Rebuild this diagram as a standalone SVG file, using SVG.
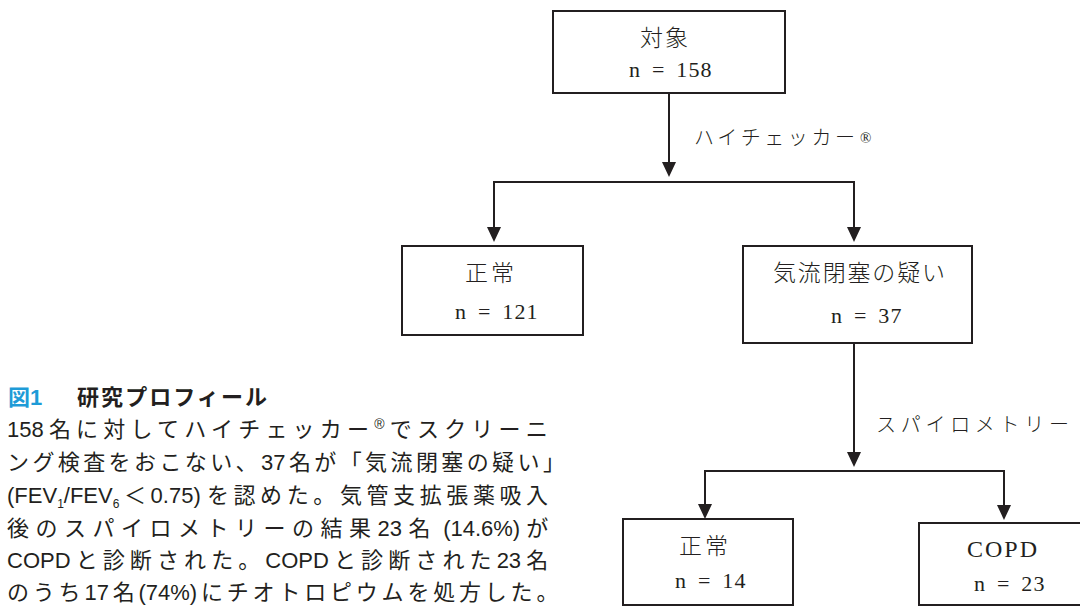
<svg xmlns="http://www.w3.org/2000/svg" width="1080" height="606" viewBox="0 0 1080 606">
<style>
.bg{fill:#ffffff}
.box{fill:#ffffff;stroke:#231f20;stroke-width:2}
.ln{fill:none;stroke:#231f20;stroke-width:2}
.jp{font-family:"Noto Sans CJK JP","Liberation Serif",serif;font-weight:300;fill:#231f20}
.num{font-family:"Liberation Serif","Noto Sans CJK JP",serif;font-size:22px;letter-spacing:1.2px;word-spacing:4px;fill:#231f20}
.cap{font-family:"Liberation Sans","Noto Sans CJK JP",sans-serif;font-size:22px;fill:#231f20}
.lat{letter-spacing:0}
.ttl{font-family:"Liberation Sans","Noto Sans CJK JP",sans-serif;font-size:22px;font-weight:bold;fill:#231f20}
.blue{fill:#1e9bd7}
</style>
<defs>
<marker id="ah" viewBox="0 0 15 14" markerWidth="15" markerHeight="14" refX="11" refY="7" orient="auto" markerUnits="userSpaceOnUse">
<path d="M0,0 L15,7 L0,14 Z" fill="#231f20"/>
</marker>
</defs>
<rect class="bg" x="0" y="0" width="1080" height="606"/>

<g id="connectors">
<path class="ln" d="M669,93 V173" marker-end="url(#ah)"/>
<path class="ln" d="M494,182 H854"/>
<path class="ln" d="M494,181 V238" marker-end="url(#ah)"/>
<path class="ln" d="M854,181 V238" marker-end="url(#ah)"/>
<path class="ln" d="M854,343 V463" marker-end="url(#ah)"/>
<path class="ln" d="M705,471 H1004"/>
<path class="ln" d="M705,470 V515" marker-end="url(#ah)"/>
<path class="ln" d="M1004,470 V516" marker-end="url(#ah)"/>
<text class="jp" x="694" y="145" font-size="20" textLength="161" lengthAdjust="spacing">ハイチェッカー</text>
<text class="jp" x="860" y="143" font-size="15" style="font-family:'Liberation Serif',serif">®</text>
<text class="jp" x="876" y="432" font-size="20" textLength="193" lengthAdjust="spacing">スパイロメトリー</text>
</g>

<g id="node-target">
<rect class="box" x="553" y="11" width="232" height="82"/>
<text class="jp" x="640" y="46" font-size="23" textLength="48" lengthAdjust="spacing">対象</text>
<text class="num" x="629" y="77">n = 158</text>
</g>

<g id="node-normal1">
<rect class="box" x="402" y="246" width="181" height="89"/>
<text class="jp" x="465" y="281" font-size="23" textLength="49" lengthAdjust="spacing">正常</text>
<text class="num" x="455" y="319">n = 121</text>
</g>

<g id="node-suspect">
<rect class="box" x="743" y="246" width="229" height="97"/>
<text class="jp" x="773" y="281" font-size="23" textLength="172" lengthAdjust="spacing">気流閉塞の疑い</text>
<text class="num" x="831" y="323">n = 37</text>
</g>

<g id="node-normal2">
<rect class="box" x="623" y="519" width="170" height="86"/>
<text class="jp" x="679" y="554" font-size="23" textLength="49" lengthAdjust="spacing">正常</text>
<text class="num" x="675" y="588">n = 14</text>
</g>

<g id="node-copd">
<rect class="box" x="919" y="523" width="175" height="82"/>
<text class="num" x="967" y="557" style="font-size:24px;letter-spacing:2px">COPD</text>
<text class="num" x="974" y="591">n = 23</text>
</g>

<g id="caption">
<text class="ttl blue" x="8" y="405">図1</text>
<text class="ttl" x="77" y="405" textLength="190" lengthAdjust="spacing">研究プロフィール</text>
<text class="cap" x="7" y="437" letter-spacing="5.2"><tspan class="lat">158</tspan><tspan dx="5.2">名に対してハイチェッカー</tspan><tspan class="lat" font-size="14" dy="-8">®</tspan><tspan dy="8" dx="5.2">でスクリーニ</tspan></text>
<text class="cap" x="7" y="470" letter-spacing="3.4"><tspan>ング検査をおこない、</tspan><tspan class="lat">37</tspan><tspan dx="3.4">名が「気流閉塞の疑い」</tspan></text>
<text class="cap" x="7" y="503" letter-spacing="4.6"><tspan class="lat">(FEV</tspan><tspan class="lat" font-size="12" dy="5">1</tspan><tspan class="lat" dy="-5">/FEV</tspan><tspan class="lat" font-size="12" dy="5">6</tspan><tspan dy="-5" dx="4.6">＜</tspan><tspan class="lat">0.75) </tspan><tspan>を認めた。気管支拡張薬吸入</tspan></text>
<text class="cap" x="7" y="536" letter-spacing="6.5"><tspan>後のスパイロメトリーの結果</tspan><tspan class="lat">23</tspan><tspan dx="6.5">名</tspan><tspan class="lat"> (14.6%) </tspan><tspan>が</tspan></text>
<text class="cap" x="7" y="568" letter-spacing="5.1"><tspan class="lat">COPD</tspan><tspan dx="5.1">と診断された。</tspan><tspan class="lat">COPD</tspan><tspan dx="5.1">と診断された</tspan><tspan class="lat">23</tspan><tspan dx="5.1">名</tspan></text>
<text class="cap" x="7" y="600" letter-spacing="3.8"><tspan>のうち</tspan><tspan class="lat">17</tspan><tspan dx="3.8">名</tspan><tspan class="lat">(74%)</tspan><tspan dx="3.8">にチオトロピウムを処方した。</tspan></text>
</g>
</svg>
